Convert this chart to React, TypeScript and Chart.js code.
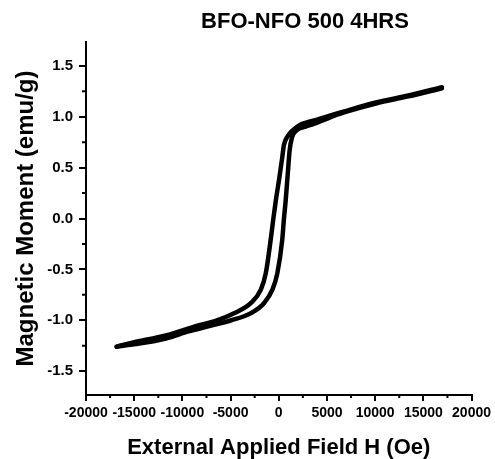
import React, { useEffect, useRef } from "react";
import { Chart, registerables } from "chart.js";

Chart.register(...registerables);

// Descending branch (H from +max to -max)
const fieldDown = [16930, 13450, 10080, 6700, 3900, 2200, 1480, 870, 530, 360, 60, -300, -560, -840, -1350, -1860, -2880, -4580, -6630, -8340, -11710, -15190, -16820];
const momentDown = [1.29, 1.21, 1.14, 1.05, 0.97, 0.92, 0.87, 0.8, 0.72, 0.6, 0.4, 0.18, 0.0, -0.21, -0.54, -0.7, -0.83, -0.93, -1.01, -1.05, -1.15, -1.22, -1.26];

// Ascending branch (H from -max to +max)
const fieldUp = [-16820, -15190, -11710, -9360, -7310, -4930, -2880, -1510, -660, -150, 360, 540, 720, 910, 1130, 1380, 1890, 2710, 3630, 4960, 6700, 10080, 13450, 16930];
const momentUp = [-1.26, -1.24, -1.18, -1.11, -1.06, -1.0, -0.93, -0.83, -0.7, -0.54, -0.21, 0.0, 0.18, 0.41, 0.67, 0.8, 0.87, 0.9, 0.93, 0.98, 1.04, 1.13, 1.2, 1.28];

const xTicks = [-20000, -15000, -10000, -5000, 0, 5000, 10000, 15000, 20000];
const xMinorTicks = [-17500, -12500, -7500, -2500, 2500, 7500, 12500, 17500];
const yTicks = [-1.5, -1.0, -0.5, 0.0, 0.5, 1.0, 1.5];
const yMinorTicks = [-1.25, -0.75, -0.25, 0.25, 0.75, 1.25];

const titleText = "BFO-NFO 500 4HRS";
const xTitle = "External Applied Field H (Oe)";
const yTitle = "Magnetic Moment (emu/g)";

const FONT = "'Liberation Sans', Arial, sans-serif";

export default function App() {
  const ref = useRef<HTMLCanvasElement | null>(null);

  useEffect(() => {
    if (!ref.current) return;

    const extras = {
      id: "extras",
      afterDraw(chart: any) {
        const ctx = chart.ctx;
        const xs = chart.scales.x;
        const ys = chart.scales.y;
        const area = chart.chartArea;
        ctx.save();
        ctx.strokeStyle = "#000";
        ctx.lineWidth = 2;
        ctx.beginPath();
        xMinorTicks.forEach((v) => {
          const px = xs.getPixelForValue(v);
          ctx.moveTo(px, area.bottom);
          ctx.lineTo(px, area.bottom + 3);
        });
        yMinorTicks.forEach((v) => {
          const py = ys.getPixelForValue(v);
          ctx.moveTo(area.left - 4, py);
          ctx.lineTo(area.left, py);
        });
        ctx.stroke();
        ctx.fillStyle = "#000";
        ctx.font = `bold 22px ${FONT}`;
        ctx.textAlign = "center";
        ctx.textBaseline = "middle";
        ctx.fillText(titleText, 305, 22);
        ctx.restore();
      },
    };

    const lineStyle = {
      borderColor: "#000",
      borderWidth: 4.5,
      pointRadius: 0,
      cubicInterpolationMode: "monotone" as const,
      fill: false,
      borderCapStyle: "round" as const,
      borderJoinStyle: "round" as const,
    };

    const chart = new Chart(ref.current, {
      type: "line",
      data: {
        datasets: [
          {
            label: "down",
            data: fieldDown.map((x, i) => ({ x, y: momentDown[i] })),
            ...lineStyle,
          },
          {
            label: "up",
            data: fieldUp.map((x, i) => ({ x, y: momentUp[i] })),
            ...lineStyle,
          },
        ],
      },
      options: {
        responsive: false,
        animation: false,
        layout: { padding: { top: 42, left: 0, right: 18, bottom: 0 } },
        plugins: {
          legend: { display: false },
          tooltip: { enabled: false },
          title: { display: false },
        },
        scales: {
          x: {
            type: "linear",
            min: -20000,
            max: 20000,
            afterFit: (s: any) => {
              s.height = 64;
            },
            afterBuildTicks: (s: any) => {
              s.ticks = xTicks.map((v) => ({ value: v }));
            },
            ticks: {
              autoSkip: false,
              maxRotation: 0,
              color: "#000",
              padding: 4,
              font: { family: FONT, size: 14, weight: "bold" },
              callback: (v: any) => String(v),
            },
            grid: {
              drawOnChartArea: false,
              drawTicks: true,
              tickLength: 6,
              color: "#000",
              lineWidth: 2,
            },
            border: { display: true, color: "#000", width: 2 },
            title: {
              display: true,
              text: xTitle,
              color: "#000",
              font: { family: FONT, size: 22, weight: "bold", lineHeight: 1 },
              padding: { top: 0, bottom: 0 },
            },
          },
          y: {
            type: "linear",
            min: -1.735,
            max: 1.735,
            afterFit: (s: any) => {
              s.width = 86;
            },
            afterBuildTicks: (s: any) => {
              s.ticks = yTicks.map((v) => ({ value: v }));
            },
            ticks: {
              color: "#000",
              padding: 6,
              font: { family: FONT, size: 15, weight: "bold" },
              callback: (v: any) => Number(v).toFixed(1),
            },
            grid: {
              drawOnChartArea: false,
              drawTicks: true,
              tickLength: 7,
              color: "#000",
              lineWidth: 2,
            },
            border: { display: true, color: "#000", width: 2 },
            title: {
              display: true,
              text: yTitle,
              color: "#000",
              font: { family: FONT, size: 24, weight: "bold", lineHeight: 1 },
              padding: { top: 14, bottom: 0 },
            },
          },
        },
      },
      plugins: [extras],
    });

    return () => chart.destroy();
  }, []);

  return (
    <div style={{ position: "absolute", left: 0, top: 0, width: 495, height: 459, background: "#fff" }}>
      <canvas ref={ref} width={495} height={459} style={{ display: "block" }} />
    </div>
  );
}
